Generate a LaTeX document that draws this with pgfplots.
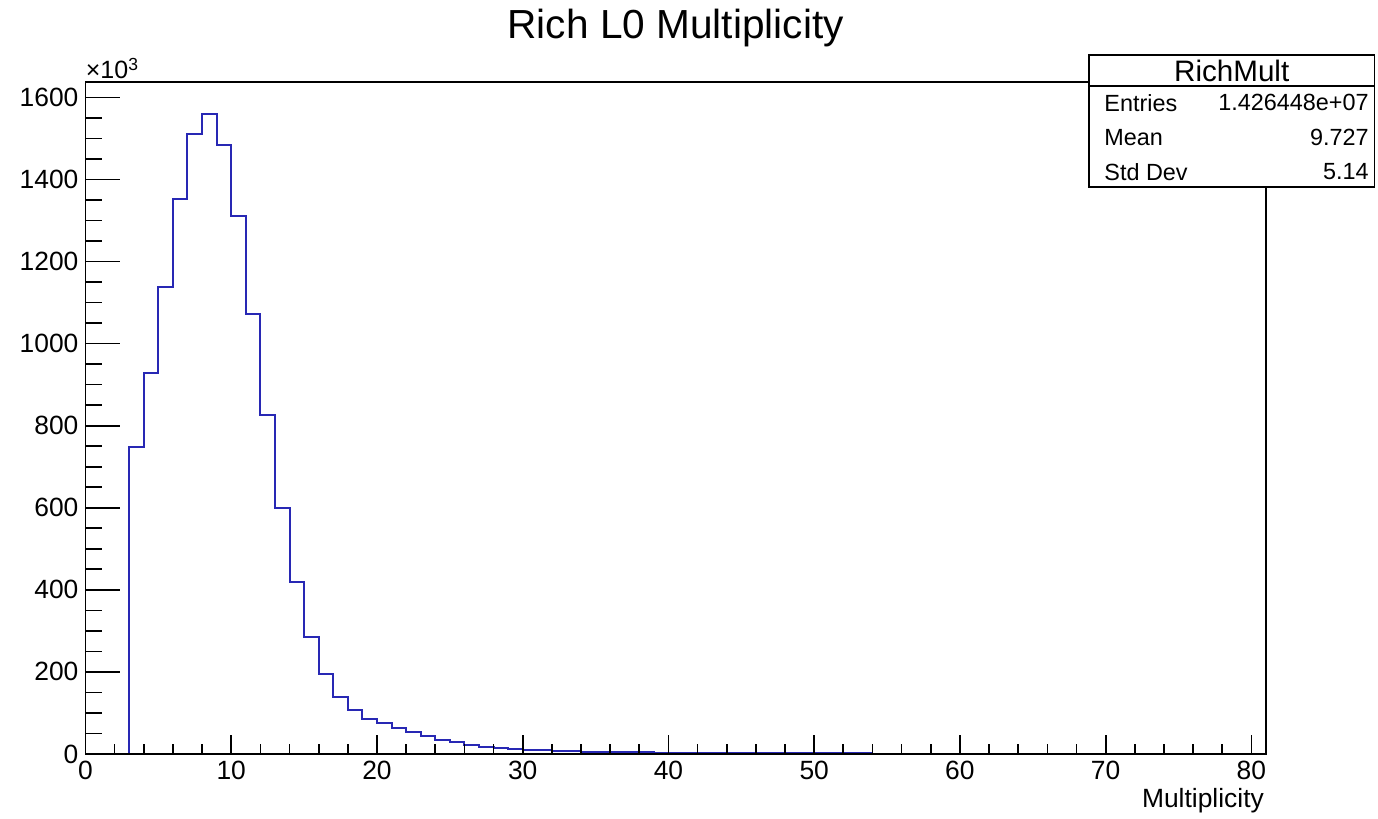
\documentclass[border=0pt]{standalone}
\usepackage{fontspec}
\setmainfont{Liberation Sans}
\usepackage{pgfplots}
\pgfplotsset{compat=1.18}

\definecolor{histblue}{RGB}{40,40,180}

\begin{document}
\begin{tikzpicture}
\begin{axis}[
    scale only axis,
    width=590.25pt, height=336pt,
    xmin=0, xmax=81,
    ymin=0, ymax=1637.5,
    xtick={0,10,...,80},
    ytick={0,200,...,1600},
    minor x tick num=4,
    minor y tick num=3,
    xtick pos=bottom, ytick pos=left,
    tick align=inside,
    x tick style={/pgfplots/major tick length=9.5pt, /pgfplots/minor tick length=4.75pt, line width=0.85pt, black},
    y tick style={/pgfplots/major tick length=17.5pt, /pgfplots/minor tick length=8.5pt, line width=0.85pt, black},
    axis line style={line width=0.9pt, black},
    scaled ticks=false,
    /pgf/number format/assume math mode=true,
    ticklabel style={font=\fontsize{13.2}{15}\selectfont},
    yticklabel style={/pgf/number format/1000 sep={}},
    axis on top,
    clip=false,
]
\addplot[const plot, histblue, line width=1pt] coordinates {
    (0,0) (3,749) (4,928) (5,1138) (6,1352) (7,1511) (8,1559) (9,1484)
    (10,1310) (11,1073) (12,825) (13,600) (14,418) (15,284) (16,195)
    (17,140) (18,106) (19,86) (20,75) (21,63) (22,53) (23,43) (24,35)
    (25,28) (26,22) (27,18) (28,14.5) (29,12) (30,10) (31,8.5) (32,7.3)
    (33,6.4) (34,5.6) (35,5.0) (36,4.5) (37,4.1) (38,3.7) (39,3.4) (40,3.1)
    (41,2.9) (42,2.7) (43,2.5) (44,2.3) (45,2.1) (46,2.0) (47,1.8) (48,1.7)
    (49,1.6) (50,1.5) (51,1.4) (52,1.3) (53,1.2) (54,1.1) (55,1.0) (56,0.9)
    (57,0.9) (58,0.8) (59,0.8) (60,0.7) (61,0.7) (62,0.6) (63,0.6) (64,0.6)
    (65,0.5) (66,0.5) (67,0.5) (68,0.4) (69,0.4) (70,0.4) (71,0.4) (72,0.3)
    (73,0.3) (74,0.3) (75,0.3) (76,0.3) (77,0.2) (78,0.2) (79,0.2) (80,0.2)
    (81,0)
};

% page size
\path (axis description cs:-0.0724,-0.0967) rectangle (axis description cs:1.0949,1.122);

% title
\node[font=\fontsize{20.3}{24}\selectfont] at (axis description cs:0.5,1.080) {Rich L0 Multiplicity};

% exponent
\node[anchor=base west, inner sep=0pt, font=\fontsize{12.5}{14}\selectfont]
    at (axis description cs:0,1.0045) {×10\textsuperscript{3}};

% x label
\node[anchor=base east, inner sep=0pt, font=\fontsize{13.2}{15}\selectfont]
    at (axis description cs:0.9985,-0.080) {Multiplicity};

% corners of the stats box, drawn after the axis so it covers the frame
\coordinate (sbl) at (axis description cs:0.850,0.844);
\coordinate (str) at (axis description cs:1.092,1.040);
\coordinate (sdl) at (axis description cs:0.850,0.994);
\coordinate (sdr) at (axis description cs:1.092,0.994);
\coordinate (stt) at (axis description cs:0.971,1.017);
\coordinate (l1) at (axis description cs:0.8628,0.969);
\coordinate (r1) at (axis description cs:1.0873,0.969);
\coordinate (l2) at (axis description cs:0.8628,0.917);
\coordinate (r2) at (axis description cs:1.0873,0.917);
\coordinate (l3) at (axis description cs:0.8628,0.866);
\coordinate (r3) at (axis description cs:1.0873,0.866);
\end{axis}

% stats box
\draw[line width=0.75pt, fill=white] (sbl) rectangle (str);
\draw[line width=0.75pt] (sdl) -- (sdr);
\node[font=\fontsize{14.8}{17}\selectfont] at (stt) {RichMult};
\begin{scope}[font=\fontsize{11.7}{14}\selectfont]
\node[anchor=west, inner sep=0pt] at (l1) {Entries};
\node[anchor=east, inner sep=0pt] at (r1) {1.426448e+07};
\node[anchor=west, inner sep=0pt] at (l2) {Mean};
\node[anchor=east, inner sep=0pt] at (r2) {9.727};
\node[anchor=west, inner sep=0pt] at (l3) {Std Dev};
\node[anchor=east, inner sep=0pt] at (r3) {5.14};
\end{scope}
\end{tikzpicture}
\end{document}
